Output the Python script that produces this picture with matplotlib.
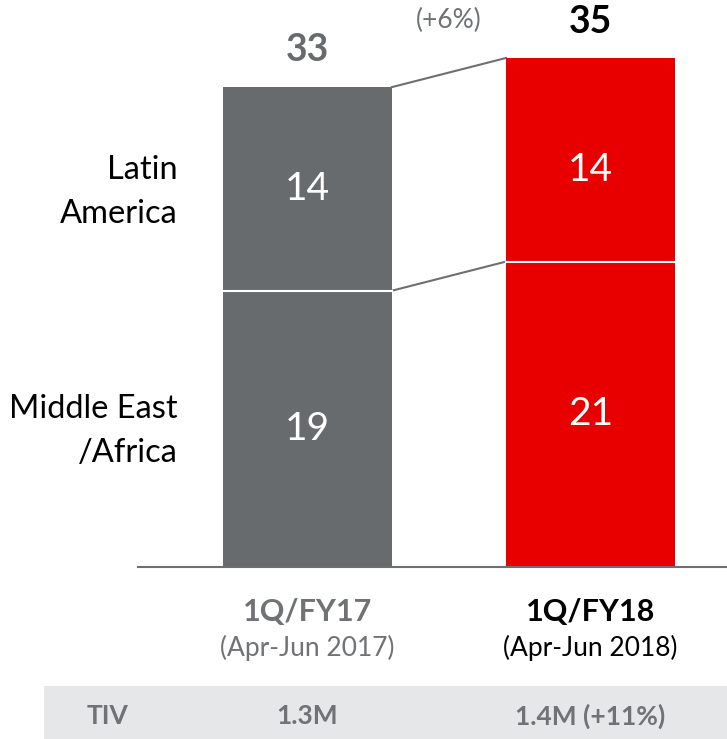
import matplotlib
matplotlib.use("Agg")
import matplotlib.pyplot as plt
from matplotlib.patches import Rectangle

plt.rcParams['font.family'] = ['Lato', 'DejaVu Sans']

periods = ["1Q/FY17", "1Q/FY18"]
period_sub = ["(Apr-Jun 2017)", "(Apr-Jun 2018)"]
mea = [19, 21]          # Middle East / Africa
latam = [14, 14]        # Latin America
totals = [33, 35]
growth_label = "(+6%)"
tiv_values = ["1.3M", "1.4M (+11%)"]
series_names = ["Middle East\n/Africa", "Latin\nAmerica"]

GRAY = "#686b6d"
RED = "#e80000"
TXTGRAY = "#707275"

W, H = 727, 739
fig = plt.figure(figsize=(W / 100, H / 100), dpi=100)

# axes: baseline at 567px from top
base_px = 567
px_per_unit = 509 / 35.0
ax = fig.add_axes([0, (H - base_px) / H, 1, base_px / H])
x0_px, step_px = 307.5, 283.0
ax.set_xlim(-x0_px / step_px, (W - x0_px) / step_px)
ax.set_ylim(0, base_px / px_per_unit)
ax.axis("off")

xs = [0, 1]
bw = 169 / step_px
colors = [GRAY, RED]
ax.bar(xs, mea, width=bw, color=colors, edgecolor="none", zorder=2)
ax.bar(xs, latam, bottom=mea, width=bw, color=colors, edgecolor="none", zorder=2)
# white separators
for i in xs:
    ax.plot([i - bw / 2, i + bw / 2], [mea[i], mea[i]], color="white", lw=1.5, zorder=3)

# baseline
ax.plot([(138 - x0_px) / step_px, (W - x0_px) / step_px], [0, 0], color="#6d6f71", lw=1.5,
        zorder=4, clip_on=False)

# connecting lines
ax.plot([0 + bw / 2, 1 - bw / 2], [totals[0], totals[1]], color="#6d6f71", lw=1.5, zorder=1)
ax.plot([0 + bw / 2, 1 - bw / 2], [mea[0], mea[1]], color="#6d6f71", lw=1.5, zorder=1)

# segment labels (small vertical nudges, as in the original)
top_nudge = [0, -10]
for i in xs:
    ax.text(i, mea[i] / 2, str(mea[i]), color="white", fontsize=28, ha="center", va="center", zorder=5)
    ax.annotate(str(latam[i]), (i, mea[i] + latam[i] / 2), xytext=(0, top_nudge[i]),
                textcoords="offset pixels", color="white", fontsize=28, ha="center",
                va="center", zorder=5)

# totals
ax.text(0, totals[0] + 2.55, str(totals[0]), color=GRAY, fontsize=27, fontweight="bold",
        ha="center", va="center")
ax.text(1, totals[1] + 2.5, str(totals[1]), color="black", fontsize=27, fontweight="bold",
        ha="center", va="center")
ax.text(0.5, totals[1] + 2.6, growth_label, color=TXTGRAY, fontsize=19, ha="center", va="center")

# series labels on left
ax.annotate(series_names[0], ((178 - x0_px) / step_px, mea[0] / 2), xytext=(0, -2),
            textcoords="offset pixels", color="black", fontsize=23.5,
            ha="right", va="center", linespacing=1.6)
ax.annotate(series_names[1], ((178 - x0_px) / step_px, mea[0] + latam[0] / 2), xytext=(0, -3),
            textcoords="offset pixels", color="black", fontsize=23.5,
            ha="right", va="center", linespacing=1.6)

# category labels below (figure pixel coords from top)
def fy(px):
    return 1 - px / H

cat_colors = [TXTGRAY, "black"]
for i in xs:
    xf = (x0_px + i * step_px) / W
    fig.text(xf, fy(612), periods[i], color=cat_colors[i], fontsize=22, fontweight="bold",
             ha="center", va="center")
    fig.text(xf, fy(648), period_sub[i], color=cat_colors[i], fontsize=19, ha="center", va="center")

# TIV band
fig.patches.append(Rectangle((44 / W, 0), 1 - 44 / W, (H - 686) / H, transform=fig.transFigure,
                             facecolor="#e6e7e8", edgecolor="none", zorder=0))
fig.text(108 / W, fy(716), "TIV", color=TXTGRAY, fontsize=19, fontweight="bold", ha="center",
         va="center")
for i in xs:
    xf = (x0_px + i * step_px) / W
    fig.text(xf, fy(716), tiv_values[i], color=TXTGRAY, fontsize=19, fontweight="bold",
             ha="center", va="center")

fig.savefig("out.png", dpi=100, facecolor="white")
